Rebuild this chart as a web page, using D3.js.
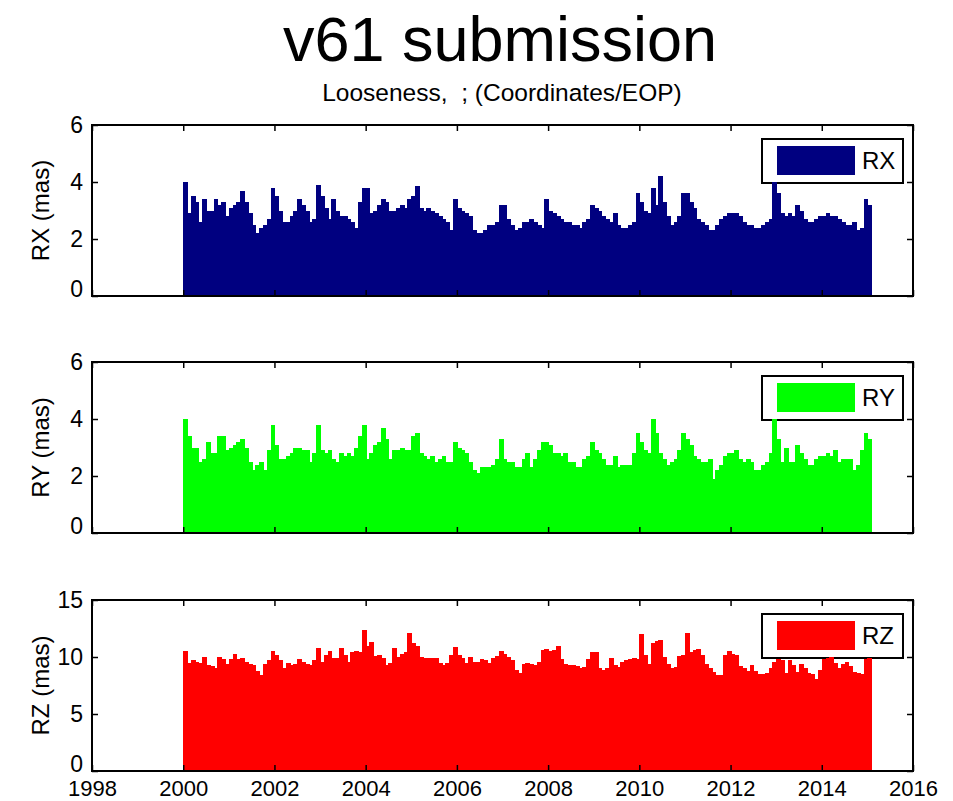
<!DOCTYPE html>
<html>
<head>
<meta charset="utf-8">
<script src="https://cdn.jsdelivr.net/npm/d3@7"></script>
<style>
  body { margin: 0; background: #fff; }
  text { font-family: "Liberation Sans", Arial, Helvetica, sans-serif; fill: #000; }
</style>
</head>
<body>
<script>
// monthly values, Jan 2000 .. Jan 2015 (one row per year)
var rxValues = [
    4.0, 2.9, 3.5, 3.3, 2.6, 3.4, 3.0, 3.0, 3.4, 3.2, 3.3, 2.8,   // 2000
    3.1, 3.2, 3.3, 3.7, 3.3, 2.9, 2.5, 2.2, 2.4, 2.5, 2.7, 3.8,   // 2001
    3.5, 3.0, 2.6, 2.6, 2.8, 3.0, 3.4, 3.2, 3.0, 2.6, 2.7, 3.9,   // 2002
    3.5, 3.1, 2.7, 3.4, 3.0, 2.8, 2.8, 2.7, 2.6, 2.4, 3.3, 3.8,   // 2003
    3.8, 2.9, 3.0, 3.2, 3.4, 3.3, 3.0, 3.0, 3.1, 3.2, 3.1, 3.4,   // 2004
    3.5, 3.85, 3.1, 3.0, 3.1, 3.0, 2.9, 2.8, 2.7, 2.6, 2.3, 3.4,  // 2005
    3.1, 3.0, 2.9, 2.8, 2.3, 2.2, 2.2, 2.3, 2.5, 2.5, 2.6, 3.2,   // 2006
    3.2, 2.7, 2.5, 2.3, 2.4, 2.6, 2.6, 2.7, 2.6, 2.5, 2.4, 3.4,   // 2007
    3.0, 2.9, 2.8, 2.7, 2.6, 2.6, 2.5, 2.5, 2.4, 2.6, 2.7, 3.2,   // 2008
    3.1, 3.0, 2.8, 2.7, 2.6, 2.9, 2.5, 2.4, 2.4, 2.5, 2.6, 3.6,   // 2009
    3.3, 3.0, 2.9, 3.8, 3.2, 4.2, 3.3, 2.8, 2.5, 2.6, 2.8, 3.6,   // 2010
    3.6, 3.3, 3.1, 2.7, 2.6, 2.5, 2.3, 2.3, 2.5, 2.7, 2.8, 2.9,   // 2011
    2.9, 2.9, 2.8, 2.6, 2.5, 2.5, 2.4, 2.4, 2.5, 2.6, 2.7, 4.0,   // 2012
    3.6, 2.9, 2.8, 2.9, 2.8, 3.2, 3.0, 2.7, 2.6, 2.6, 2.7, 2.8,   // 2013
    2.8, 2.9, 2.8, 2.8, 2.7, 2.6, 2.5, 2.5, 2.6, 2.3, 2.4, 3.4,   // 2014
    3.2                                                           // 2015
];

var ryValues = [
    4.0, 3.4, 3.0, 3.0, 2.5, 2.6, 3.2, 2.8, 2.8, 3.4, 3.4, 2.9,   // 2000
    3.0, 3.1, 3.2, 3.3, 3.0, 2.5, 2.2, 2.4, 2.5, 2.2, 2.9, 3.8,   // 2001
    3.1, 2.6, 2.6, 2.7, 2.8, 3.0, 3.0, 2.9, 2.9, 2.5, 2.8, 3.8,   // 2002
    2.9, 2.8, 2.9, 2.6, 2.5, 2.8, 2.7, 2.8, 2.7, 3.0, 3.4, 3.8,   // 2003
    2.6, 2.8, 3.1, 3.2, 3.7, 3.3, 2.6, 2.9, 2.9, 3.0, 2.9, 2.9,   // 2004
    3.4, 3.5, 2.8, 2.7, 2.6, 2.7, 2.5, 2.6, 2.7, 2.5, 2.5, 3.2,   // 2005
    3.0, 2.9, 2.8, 2.5, 2.2, 2.1, 2.3, 2.3, 2.3, 2.4, 2.6, 3.3,   // 2006
    2.6, 2.5, 2.5, 2.3, 2.3, 2.6, 2.8, 2.3, 2.6, 2.9, 3.2, 3.2,   // 2007
    3.1, 2.8, 2.8, 2.7, 2.8, 2.5, 2.5, 2.3, 2.3, 2.6, 2.7, 3.2,   // 2008
    2.9, 2.8, 2.6, 2.4, 2.4, 2.7, 2.3, 2.4, 2.4, 2.4, 2.8, 3.5,   // 2009
    3.2, 2.9, 2.8, 4.0, 3.5, 2.8, 2.6, 2.4, 2.5, 2.6, 2.9, 3.5,   // 2010
    3.3, 3.1, 2.7, 2.6, 2.5, 2.5, 2.6, 1.9, 2.2, 2.4, 2.7, 2.8,   // 2011
    2.8, 2.9, 2.6, 2.5, 2.6, 2.5, 2.2, 2.2, 2.4, 2.5, 2.8, 4.0,   // 2012
    3.3, 2.5, 3.0, 2.5, 2.5, 3.1, 2.8, 2.6, 2.4, 2.4, 2.6, 2.7,   // 2013
    2.7, 2.8, 2.7, 2.9, 2.5, 2.6, 2.6, 2.6, 2.2, 2.4, 2.9, 3.5,   // 2014
    3.3                                                           // 2015
];

var rzValues = [
    10.5, 9.5, 9.7, 9.6, 9.5, 10.0, 9.3, 9.2, 9.0, 10.0, 9.8, 9.4,      // 2000
    9.8, 10.3, 9.8, 9.9, 9.6, 9.4, 9.3, 8.8, 8.4, 9.4, 9.7, 10.5,       // 2001
    10.2, 9.7, 9.0, 9.5, 9.3, 9.4, 9.8, 9.6, 9.4, 9.3, 9.7, 10.8,       // 2002
    9.6, 10.2, 10.5, 9.9, 9.9, 10.8, 10.2, 9.6, 10.4, 10.5, 10.4, 12.4, // 2003
    11.0, 11.3, 10.1, 10.2, 9.9, 9.3, 9.5, 10.8, 10.0, 10.3, 10.4, 12.1,// 2004
    11.2, 11.0, 10.0, 9.9, 9.9, 9.9, 9.9, 9.5, 9.3, 9.5, 10.2, 10.9,    // 2005
    10.2, 9.9, 9.5, 10.0, 9.6, 9.6, 9.8, 9.7, 9.5, 9.9, 10.1, 10.5,     // 2006
    10.3, 10.0, 9.7, 8.9, 8.6, 9.4, 9.5, 9.4, 9.3, 9.6, 10.6, 10.7,     // 2007
    10.5, 10.6, 11.0, 9.8, 9.4, 9.3, 9.3, 9.2, 9.0, 9.1, 9.8, 10.4,     // 2008
    10.4, 9.0, 8.9, 9.0, 9.9, 9.3, 9.1, 9.6, 9.7, 9.8, 9.9, 9.8,        // 2009
    12.0, 10.2, 9.4, 11.2, 11.4, 11.5, 10.0, 9.4, 9.0, 9.1, 10.1, 10.2, // 2010
    12.1, 10.4, 10.6, 10.7, 10.2, 9.4, 9.0, 8.7, 8.4, 8.4, 10.2, 10.5,  // 2011
    10.3, 10.2, 9.2, 9.0, 8.8, 9.3, 8.8, 8.5, 8.5, 8.6, 9.0, 9.6,       // 2012
    9.8, 9.7, 8.6, 9.7, 9.3, 8.7, 9.4, 9.0, 8.6, 8.5, 8.1, 8.9,         // 2013
    9.8, 9.9, 10.0, 9.5, 9.0, 9.4, 9.6, 9.2, 8.7, 8.6, 8.5, 9.8,        // 2014
    9.9                                                                 // 2015
];

var startYear = 2000;
var xTicks = [1998, 2000, 2002, 2004, 2006, 2008, 2010, 2012, 2014, 2016];
var rxTicks = [0, 2, 4, 6];
var ryTicks = [0, 2, 4, 6];
var rzTicks = [0, 5, 10, 15];

var width = 953, height = 801,
    left = 92, right = 913;

var svg = d3.select('body').append('svg')
    .attr('width', width)
    .attr('height', height);

var x = d3.scaleLinear().domain([1998, 2016]).range([left, right]);

svg.append('text')
    .attr('x', 500).attr('y', 61)
    .attr('text-anchor', 'middle')
    .style('font-size', '63px')
    .text('v61 submission');

svg.append('text')
    .attr('x', 502).attr('y', 101)
    .attr('text-anchor', 'middle')
    .style('font-size', '24.5px')
    .style('white-space', 'pre')
    .text('Looseness,  ; (Coordinates/EOP)');

var panels = [
    { name: 'RX', values: rxValues, ticks: rxTicks, color: '#000080', top: 125, bottom: 296, showX: false },
    { name: 'RY', values: ryValues, ticks: ryTicks, color: '#00ff00', top: 362, bottom: 533, showX: false },
    { name: 'RZ', values: rzValues, ticks: rzTicks, color: '#ff0000', top: 600, bottom: 771, showX: true }
];

panels.forEach(p => {
    var y = d3.scaleLinear()
        .domain([0, d3.max(p.ticks)])
        .range([p.bottom, p.top]);

    var g = svg.append('g');

    // legend sits under the bars, like in the original figure
    var lg = g.append('g').attr('transform', 'translate(762,' + (p.top + 14) + ')');
    lg.append('rect')
        .attr('width', 141).attr('height', 44)
        .attr('fill', '#fff').attr('stroke', '#000').attr('stroke-width', 2);
    lg.append('rect')
        .attr('x', 15).attr('y', 7)
        .attr('width', 78).attr('height', 29)
        .attr('fill', p.color);
    lg.append('text')
        .attr('x', 100).attr('y', 30)
        .style('font-size', '24px')
        .text(p.name);

    // bars
    g.append('g')
        .attr('shape-rendering', 'crispEdges')
        .selectAll('rect')
        .data(p.values)
        .enter()
        .append('rect')
        .attr('x', (d, i) => x(startYear + i / 12))
        .attr('width', (d, i) => x(startYear + (i + 1) / 12) - x(startYear + i / 12) + 1)
        .attr('y', d => y(d))
        .attr('height', d => y(0) - y(d))
        .attr('fill', p.color);

    // axes, ticks pointing inward
    var yLeft = g.append('g')
        .attr('transform', 'translate(' + left + ',0)')
        .call(d3.axisLeft(y).tickValues(p.ticks).tickFormat(d3.format('d'))
            .tickSizeInner(-6).tickSizeOuter(0).tickPadding(9));
    yLeft.selectAll('text').style('font-size', '23px');
    // the zero label sits a little above the base line in the original
    yLeft.selectAll('.tick').filter(d => d === 0).select('text').attr('y', -7);

    g.append('g')
        .attr('transform', 'translate(' + right + ',0)')
        .call(d3.axisRight(y).tickValues(p.ticks).tickSizeInner(-6).tickSizeOuter(0).tickFormat(''));

    g.append('g')
        .attr('transform', 'translate(0,' + p.top + ')')
        .call(d3.axisTop(x).tickValues(xTicks).tickSizeInner(-6).tickSizeOuter(0).tickFormat(''));

    var xBottom = g.append('g')
        .attr('transform', 'translate(0,' + p.bottom + ')')
        .call(d3.axisBottom(x).tickValues(xTicks).tickSizeInner(-6).tickSizeOuter(0).tickPadding(9)
            .tickFormat(p.showX ? d3.format('d') : ''));
    xBottom.selectAll('text').style('font-size', '22px');

    g.selectAll('.domain').remove();
    g.selectAll('.tick line').attr('stroke', '#000').attr('stroke-width', 1.5);

    // axes box
    g.append('rect')
        .attr('x', left).attr('y', p.top)
        .attr('width', right - left).attr('height', p.bottom - p.top)
        .attr('fill', 'none').attr('stroke', '#000').attr('stroke-width', 2);

    g.append('text')
        .attr('transform', 'translate(41,' + (p.top + p.bottom) / 2 + ') rotate(-90)')
        .attr('text-anchor', 'middle')
        .attr('dy', '0.35em')
        .style('font-size', '24px')
        .text(p.name + ' (mas)');
});
</script>
</body>
</html>
